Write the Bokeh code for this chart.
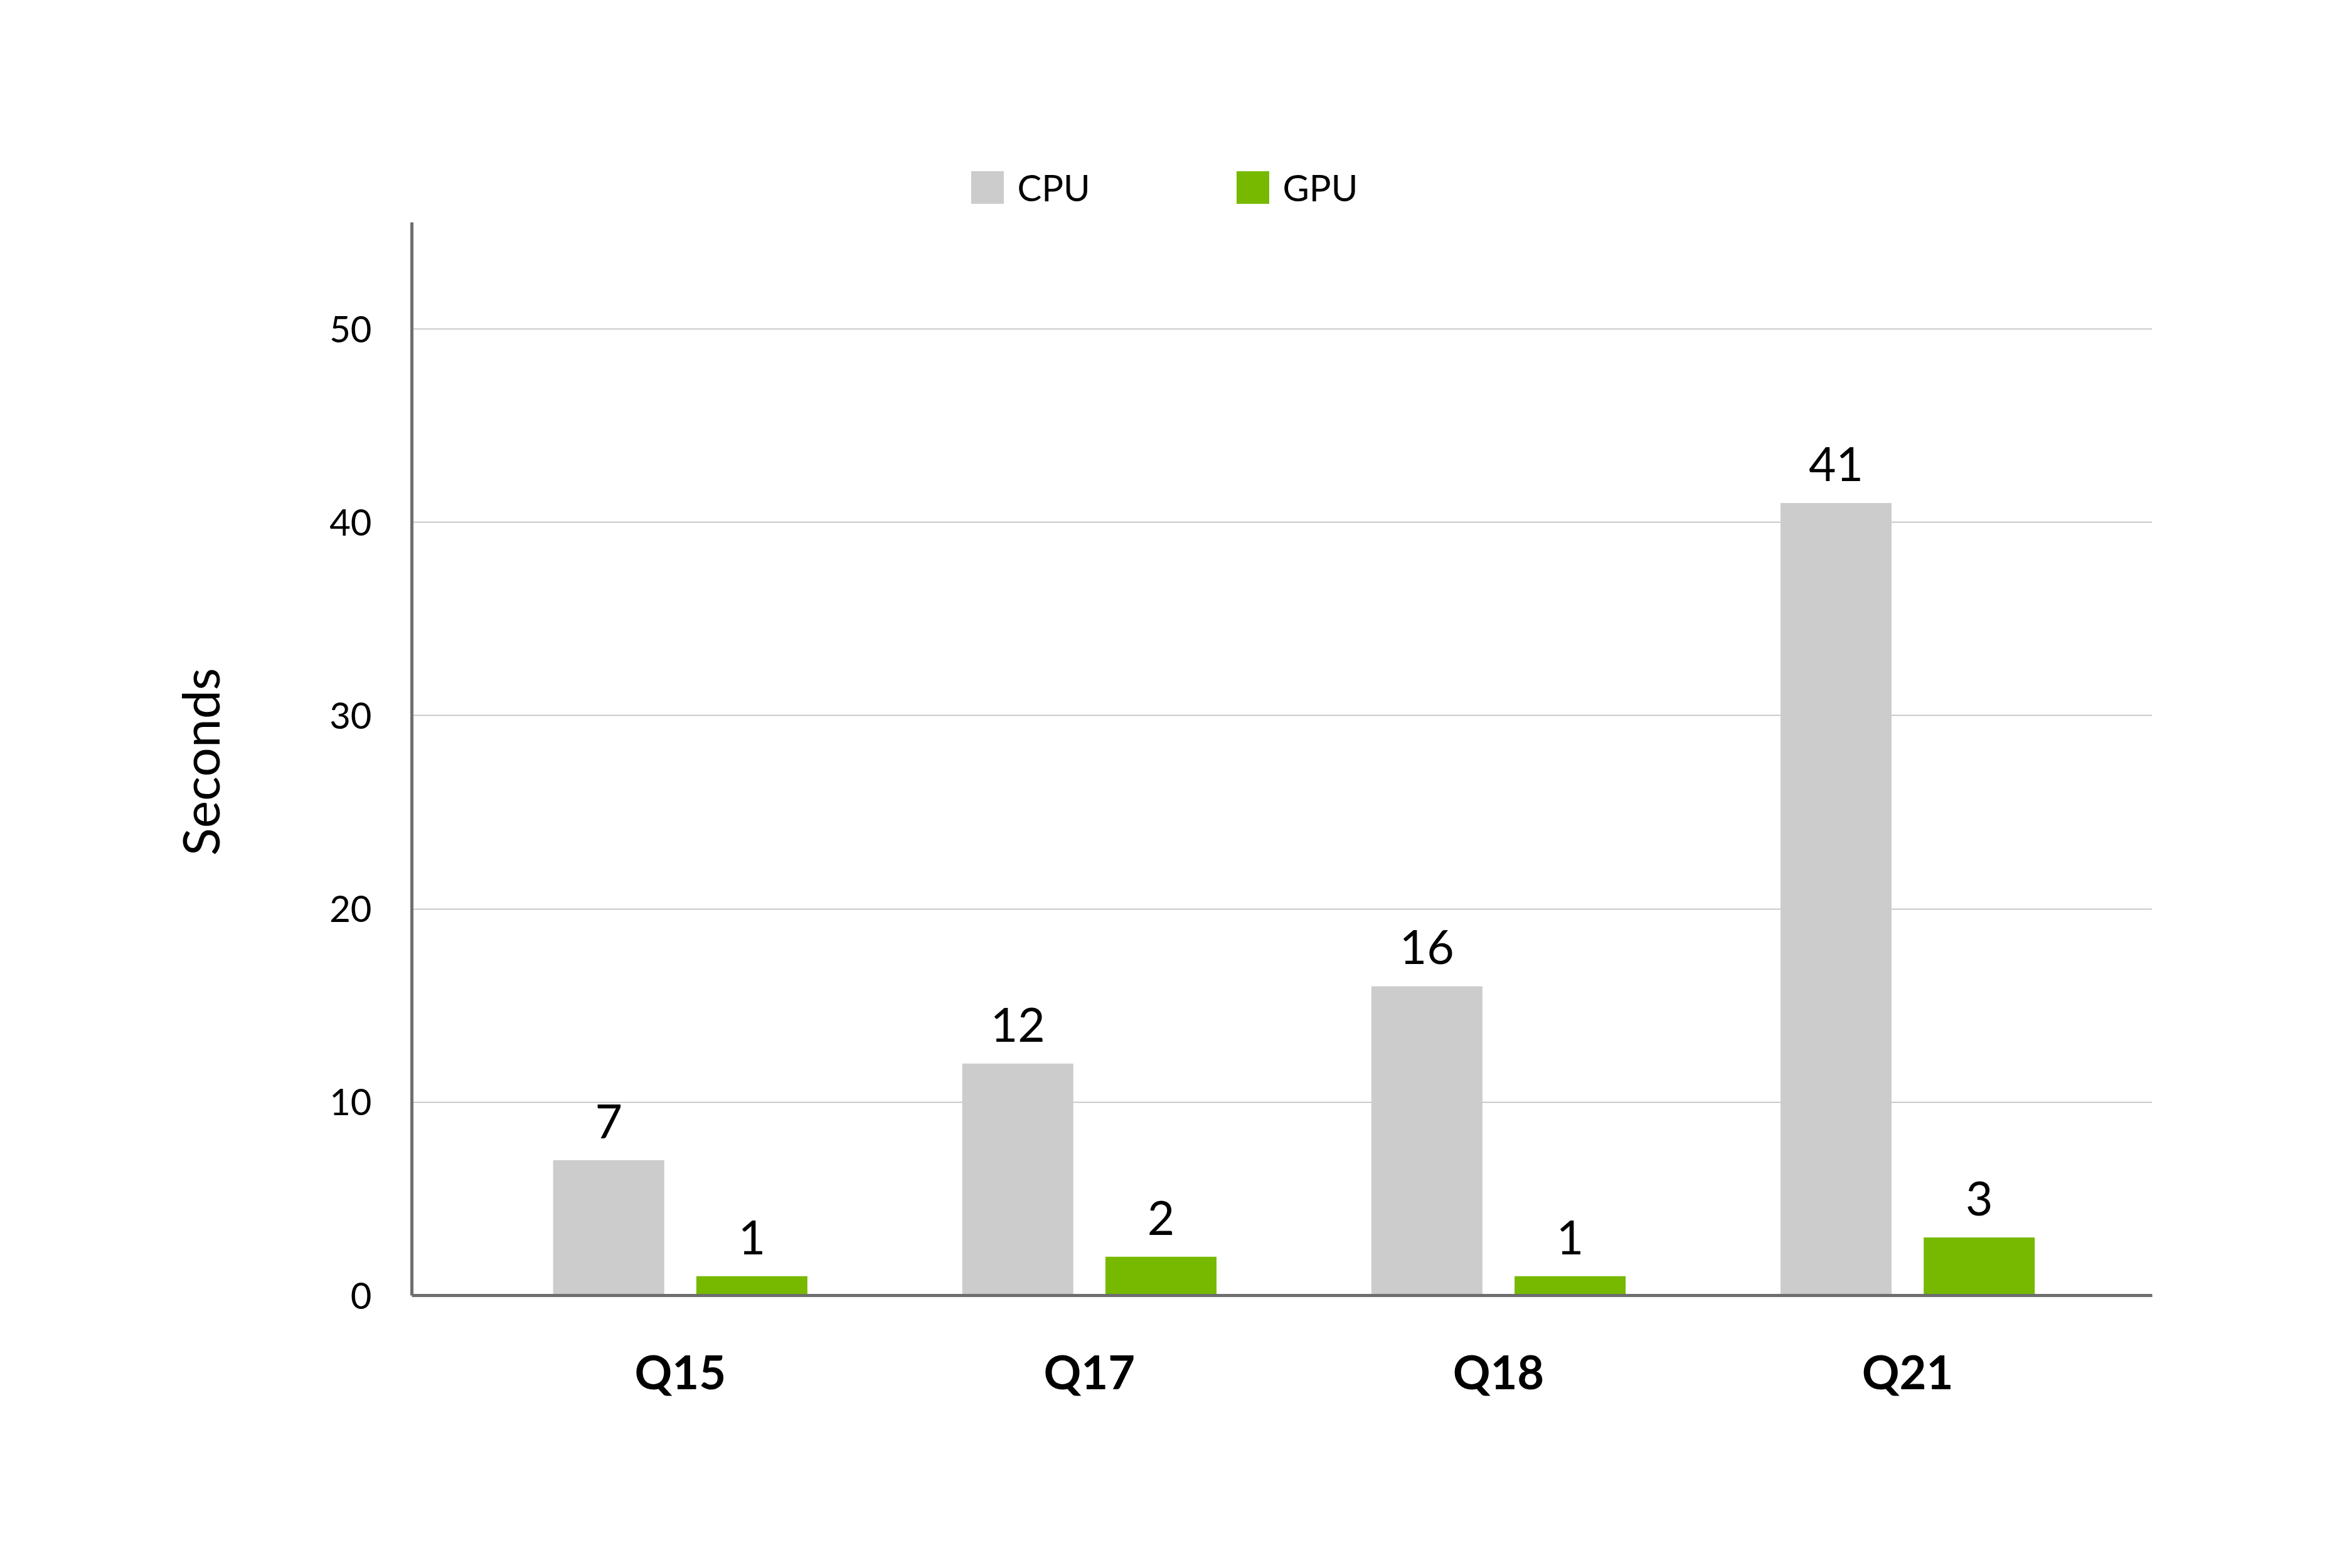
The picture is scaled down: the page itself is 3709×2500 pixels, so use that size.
from bokeh.core.properties import value
from bokeh.embed import file_html
from bokeh.models import ColumnDataSource, FixedTicker, Legend, LegendItem, Range1d, Title
from bokeh.plotting import figure
from bokeh.resources import INLINE
from bokeh.transform import dodge

# ---------- data ----------
queries = ["Q15", "Q17", "Q18", "Q21"]
cpu_seconds = [7, 12, 16, 41]
gpu_seconds = [1, 2, 1, 3]
y_ticks = [0, 10, 20, 30, 40, 50]

CPU_COLOR = "#cccccc"
GPU_COLOR = "#76b900"
AXIS_COLOR = "#6e6e6e"
FONT = "Lato"

W, H = 3690, 2480
FRAME_TOP = 200      # frame reaches up to the legend so it is not clipped
FRAME_BOTTOM = 2065
PX_PER_UNIT = 30.82
Y_AXIS_TOP = 55.5    # the visible y axis line stops here

src = ColumnDataSource(dict(
    idx=list(range(len(queries))),
    cpu=cpu_seconds,
    gpu=gpu_seconds,
    cpu_txt=[str(v) for v in cpu_seconds],
    gpu_txt=[str(v) for v in gpu_seconds],
))

p = figure(
    width=W,
    height=H,
    x_range=Range1d(-0.656, 3.598),
    y_range=Range1d(0, (FRAME_BOTTOM - FRAME_TOP) / PX_PER_UNIT),
    output_backend="svg",
    toolbar_location=None,
    tools="",
    min_border_left=656,
    min_border_right=W - 3430,
    min_border_top=FRAME_TOP,
    min_border_bottom=H - FRAME_BOTTOM,
)
p.outline_line_color = None
p.background_fill_color = "white"
p.border_fill_color = "white"

# ---------- bars ----------
bar_w = 0.2715
off = 0.175
r_cpu = p.vbar(x=dodge("idx", -off, range=p.x_range), top="cpu", width=bar_w,
               source=src, fill_color=CPU_COLOR, line_color=None)
r_gpu = p.vbar(x=dodge("idx", off, range=p.x_range), top="gpu", width=bar_w,
               source=src, fill_color=GPU_COLOR, line_color=None)

# value labels above the bars
for col, txt, dx in (("cpu", "cpu_txt", -off), ("gpu", "gpu_txt", off)):
    p.text(x=dodge("idx", dx, range=p.x_range), y=col, text=txt, source=src,
           text_align="center", text_baseline="alphabetic", y_offset=-62,
           text_font=value(FONT), text_font_size="75px", text_color="black")

# ---------- axes ----------
p.xaxis.ticker = FixedTicker(ticks=list(range(len(queries))))
p.xaxis.major_label_overrides = {i: q for i, q in enumerate(queries)}
p.xaxis.major_label_text_font = FONT
p.xaxis.major_label_text_font_style = "bold"
p.xaxis.major_label_text_font_size = "74px"
p.xaxis.major_label_text_color = "black"
p.xaxis.major_label_standoff = 70
p.xaxis.major_tick_line_color = None
p.xaxis.minor_tick_line_color = None
p.xaxis.axis_line_color = AXIS_COLOR
p.xaxis.axis_line_width = 5

p.yaxis.ticker = FixedTicker(ticks=y_ticks)
p.yaxis.bounds = (0, Y_AXIS_TOP)
p.yaxis.major_label_text_font = FONT
p.yaxis.major_label_text_font_size = "58px"
p.yaxis.major_label_text_color = "black"
p.yaxis.major_label_standoff = 58
p.yaxis.major_tick_line_color = None
p.yaxis.minor_tick_line_color = None
p.yaxis.axis_line_color = AXIS_COLOR
p.yaxis.axis_line_width = 5

# "Seconds" as a side title so it can sit centred on the visible axis
y_title = Title(
    text="Seconds",
    align="left",
    vertical_align="bottom",
    offset=701,
    standoff=312,
    text_font=FONT,
    text_font_style="normal",
    text_font_size="82px",
    text_color="black",
)
p.add_layout(y_title, "left")

p.xgrid.grid_line_color = None
p.ygrid.grid_line_color = "#b8b8b8"
p.ygrid.grid_line_width = 1.5

# ---------- legend ----------
# bokeh insets area glyphs by 10% per side, so 65px boxes give 52px squares
legend = Legend(
    items=[LegendItem(label="CPU", renderers=[r_cpu]),
           LegendItem(label="GPU", renderers=[r_gpu])],
    orientation="horizontal",
    location=(884.5, FRAME_BOTTOM - 332.5),
    glyph_width=65,
    glyph_height=65,
    label_height=65,
    label_width=342,
    label_standoff=16,
    spacing=0,
    padding=0,
    margin=0,
    border_line_color=None,
    background_fill_alpha=0,
    label_text_font=FONT,
    label_text_font_size="58px",
    label_text_color="black",
)
p.add_layout(legend, "center")

open("out.html", "w").write(file_html(p, INLINE))
